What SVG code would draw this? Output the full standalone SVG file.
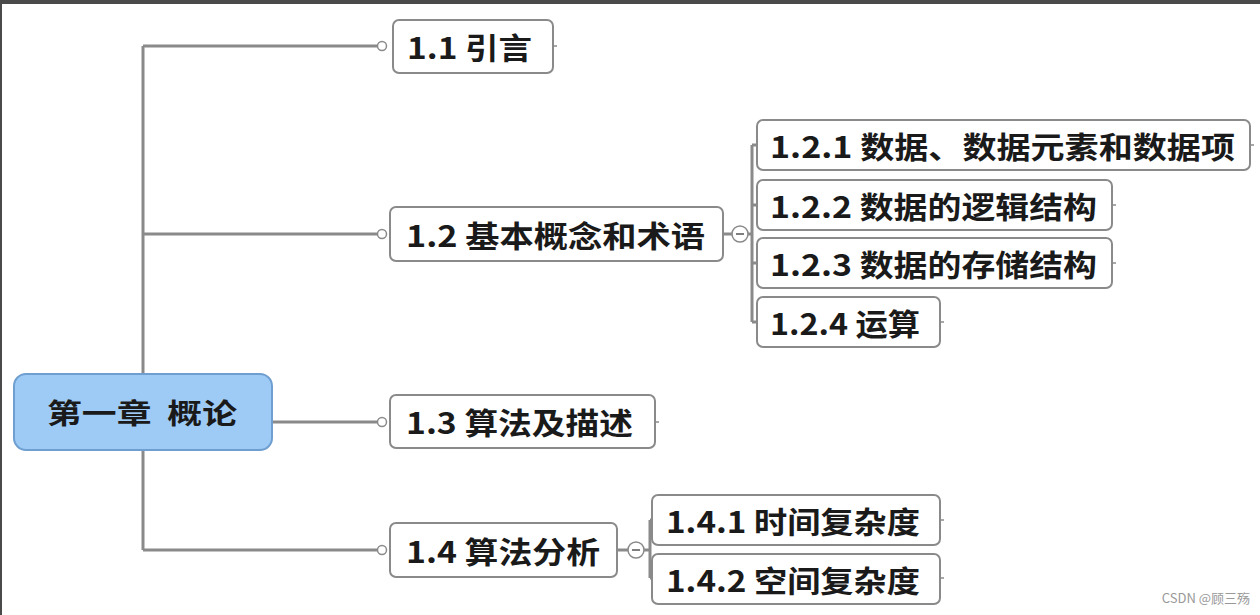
<svg xmlns="http://www.w3.org/2000/svg" width="1260" height="615" viewBox="0 0 1260 615">
<style>
.n rect{fill:#fff;stroke:#8a8a8a;stroke-width:2}
.n text{font-family:"Noto Sans CJK SC","Liberation Sans",sans-serif;font-weight:bold;font-size:30px;fill:#1a1a1a;dominant-baseline:central}
.c{stroke:#8a8a8a;stroke-width:3;fill:none}
.d{fill:#fff;stroke:#8a8a8a;stroke-width:1.5}
</style>
<rect width="1260" height="615" fill="#fff"/>
<rect width="1260" height="4" fill="#4a4a4a"/>
<rect width="2" height="615" fill="#4a4a4a"/>
<g id="connectors">
<path class="c" d="M143 46V550M143 46H380M143 234H380M272 422H380M143 550H380"/>
<path class="c" d="M723 234H752M752 145V322M752 145H757M752 205H757M752 263H757M752 322H757"/>
<path class="c" d="M617 550H650M650 520V578M650 520H652M650 578H652"/>
<circle class="d" cx="382" cy="46" r="4.5"/><circle class="d" cx="382" cy="234" r="4.5"/>
<circle class="d" cx="382" cy="422" r="4.5"/><circle class="d" cx="382" cy="550" r="4.5"/>
<g class="d"><circle cx="740" cy="234" r="8"/><circle cx="636" cy="550" r="8"/></g>
<path d="M736 234H744M632 550H640" stroke="#555" stroke-width="1.5"/>
<path d="M553 46h4M655 422h4M1250 145h4M1112 205h4M1112 263h4M940 322h4M940 520h4M940 578h4" stroke="#8a8a8a" stroke-width="1.5"/>
</g>
<g id="root"><rect x="14" y="374" width="258" height="76" rx="12" fill="#9ecbf5" stroke="#6f9fd0" stroke-width="2"/>
<text x="47" y="412" textLength="190" lengthAdjust="spacingAndGlyphs" dominant-baseline="central" font-family="Noto Sans CJK SC,sans-serif" font-weight="bold" font-size="28" fill="#1a1a1a" xml:space="preserve">第一章  概论</text></g>
<g id="n11" class="n"><rect x="393" y="20" width="160" height="53" rx="6"/><text x="407" y="46" textLength="125" lengthAdjust="spacingAndGlyphs">1.1 引言</text></g>
<g id="n12" class="n"><rect x="390" y="207" width="333" height="54" rx="6"/><text x="406" y="234" textLength="299" lengthAdjust="spacingAndGlyphs">1.2 基本概念和术语</text></g>
<g id="n13" class="n"><rect x="390" y="395" width="265" height="53" rx="6"/><text x="406" y="421" textLength="227" lengthAdjust="spacingAndGlyphs">1.3 算法及描述</text></g>
<g id="n14" class="n"><rect x="390" y="523" width="227" height="54" rx="6"/><text x="406" y="550" textLength="194" lengthAdjust="spacingAndGlyphs">1.4 算法分析</text></g>
<g id="n121" class="n"><rect x="757" y="120" width="493" height="50" rx="6"/><text x="770" y="145" textLength="465" lengthAdjust="spacingAndGlyphs">1.2.1 数据、数据元素和数据项</text></g>
<g id="n122" class="n"><rect x="757" y="180" width="355" height="50" rx="6"/><text x="770" y="205" textLength="327" lengthAdjust="spacingAndGlyphs">1.2.2 数据的逻辑结构</text></g>
<g id="n123" class="n"><rect x="757" y="238" width="355" height="50" rx="6"/><text x="770" y="263" textLength="327" lengthAdjust="spacingAndGlyphs">1.2.3 数据的存储结构</text></g>
<g id="n124" class="n"><rect x="757" y="297" width="183" height="50" rx="6"/><text x="770" y="322" textLength="150" lengthAdjust="spacingAndGlyphs">1.2.4 运算</text></g>
<g id="n141" class="n"><rect x="652" y="495" width="288" height="50" rx="6"/><text x="666" y="520" textLength="254" lengthAdjust="spacingAndGlyphs">1.4.1 时间复杂度</text></g>
<g id="n142" class="n"><rect x="652" y="554" width="288" height="50" rx="6"/><text x="666" y="579" textLength="254" lengthAdjust="spacingAndGlyphs">1.4.2 空间复杂度</text></g>
<text x="1250" y="603" text-anchor="end" font-family="Noto Sans CJK SC,sans-serif" font-size="13" fill="#999">CSDN @顾三殇</text>
</svg>
